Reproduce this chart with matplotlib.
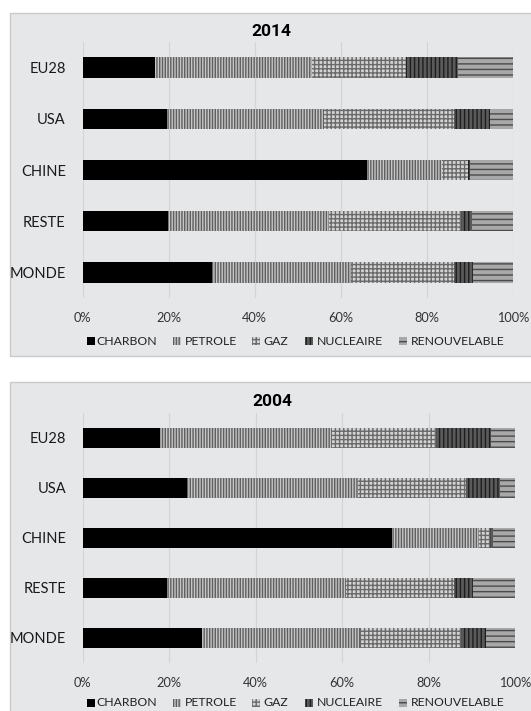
import matplotlib
matplotlib.use("Agg")
import matplotlib.pyplot as plt
from matplotlib.patches import Rectangle
from matplotlib.ticker import PercentFormatter

# Energy mix shares (% of primary energy) by region
regions = ["EU28", "USA", "CHINE", "RESTE", "MONDE"]
sources = ["CHARBON", "PETROLE", "GAZ", "NUCLEAIRE", "RENOUVELABLE"]

charbon_2014 = [16.8, 19.7, 66.0, 19.8, 30.0]
petrole_2014 = [36.4, 36.4, 17.4, 37.4, 32.4]
gaz_2014 = [22.0, 30.3, 6.1, 30.7, 24.0]
nucleaire_2014 = [12.1, 8.2, 0.6, 2.6, 4.3]
renouvelable_2014 = [12.7, 5.4, 9.9, 9.5, 9.3]

charbon_2004 = [17.9, 24.1, 71.6, 19.6, 27.6]
petrole_2004 = [39.5, 39.6, 20.1, 41.3, 36.5]
gaz_2004 = [24.4, 25.0, 2.6, 25.1, 23.5]
nucleaire_2004 = [12.6, 7.9, 0.5, 4.3, 5.7]
renouvelable_2004 = [5.6, 3.4, 5.2, 9.7, 6.7]

W, H = 531, 711
plt.rcParams["font.family"] = ["Lato", "DejaVu Sans"]
plt.rcParams["hatch.linewidth"] = 1.0

fig = plt.figure(figsize=(W / 100, H / 100), dpi=100)
fig.patch.set_facecolor("white")

PANEL = "#e6e7e9"
GRID = "#d3d4d6"

styles = [
    dict(facecolor="black", edgecolor="black", hatch=None),
    dict(facecolor="#c6c6c6", edgecolor="#5e5e5e", hatch="||||||"),
    dict(facecolor="#d4d4d4", edgecolor="#6a6a6a", hatch="++++"),
    dict(facecolor="#5a5a5a", edgecolor="#1e1e1e", hatch="||||"),
    dict(facecolor="#a8a8a8", edgecolor="#4a4a4a", hatch="---"),
]

# legend entry positions (marker left, text left) in pixels
legend_slots = [(86.5, 96.5), (172.5, 184.5), (252.0, 263.5),
                (305.0, 316.5), (399.0, 410.5)]


def fx(px):
    return px / W


def fy(py):
    return 1 - py / H


def panel(x0, y0, x1, y1):
    fig.patches.append(Rectangle((fx(x0), fy(y1)), fx(x1 - x0), (y1 - y0) / H,
                                 transform=fig.transFigure, facecolor=PANEL,
                                 edgecolor="#c9cacc", linewidth=1.0, zorder=-5))


def legend(y):
    for (mx, tx), name, st in zip(legend_slots, sources, styles):
        fig.patches.append(Rectangle((fx(mx), fy(y + 4)), fx(8), 8 / H,
                                     transform=fig.transFigure,
                                     facecolor=st["facecolor"],
                                     edgecolor=st["edgecolor"], hatch=st["hatch"],
                                     linewidth=0, zorder=5))
        fig.text(fx(tx), fy(y), name, ha="left", va="center", fontsize=8.8,
                 color="#222222")


def chart(title, series, box, title_xy, legend_y):
    x0, y0, x1, y1 = box
    ax = fig.add_axes([fx(x0), fy(y1), fx(x1 - x0), (y1 - y0) / H])
    ax.set_facecolor("none")
    ypos = list(range(len(regions)))
    left = [0.0] * len(regions)
    for name, vals, st in zip(sources, series, styles):
        ax.barh(ypos, vals, left=left, height=0.4, facecolor=st["facecolor"],
                edgecolor=st["edgecolor"], hatch=st["hatch"], linewidth=0,
                zorder=3, label=name)
        left = [a + b for a, b in zip(left, vals)]
    ax.set_xlim(0, 100)
    ax.set_ylim(len(regions) - 0.5, -0.5)
    ax.set_yticks(ypos)
    ax.set_yticklabels(regions, fontsize=10.5, color="#1a1a1a")
    ax.set_xticks([0, 20, 40, 60, 80, 100])
    ax.xaxis.set_major_formatter(PercentFormatter(decimals=0))
    ax.tick_params(axis="y", length=0, pad=12)
    ax.tick_params(axis="x", length=0, pad=10, labelsize=9.2, labelcolor="#333333")
    ax.grid(axis="x", color=GRID, linewidth=0.8, zorder=0)
    for s in ax.spines.values():
        s.set_visible(False)
    fig.text(fx(title_xy[0]), fy(title_xy[1]), title, ha="center", va="center",
             fontsize=12.5, fontweight="bold", family=["Roboto", "DejaVu Sans"],
             color="black")
    legend(legend_y)
    return ax


panel(9.5, 12.5, 545, 356)
panel(9.5, 382, 545, 725)

chart("2014", [charbon_2014, petrole_2014, gaz_2014, nucleaire_2014, renouvelable_2014],
      (82.5, 41.9, 513, 298.1), (271.5, 32), 341)
chart("2004", [charbon_2004, petrole_2004, gaz_2004, nucleaire_2004, renouvelable_2004],
      (82.6, 412.7, 515, 663), (272.5, 401.7), 703)

fig.savefig("out.png", dpi=100, facecolor="white")
